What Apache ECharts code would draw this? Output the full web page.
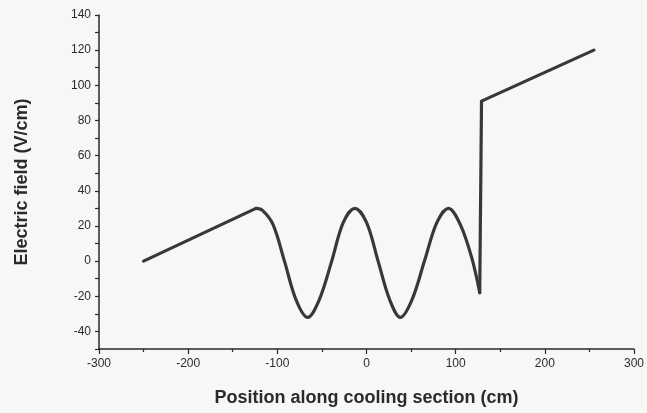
<!DOCTYPE html>
<html>
<head>
<meta charset="utf-8">
<script src="https://cdn.jsdelivr.net/npm/echarts@6/dist/echarts.min.js"></script>
<style>
  html, body { margin: 0; padding: 0; background: #f7f7f5; }
  #main { width: 647px; height: 413px; }
</style>
</head>
<body>
<div id="main"></div>
<script>
// position along cooling section (cm) and field (V/cm)
// linear ramp up to the first crest
var rampX = [-250, -124];
var rampY = [0, 30];
// oscillating part
var waveX = [-124, -117, -105, -92, -79, -66, -53, -39, -26, -13, 0, 13, 26, 38, 51, 65, 79, 92, 105, 118, 127];
var waveY = [30, 29, 21, 0, -22, -32, -22, 0, 22, 30, 22, 0, -22, -32, -22, 0, 22, 30, 21, 2, -18];
// jump and final ramp
var jumpX = [127, 129, 255];
var jumpY = [-18, 91, 120];

var xTicks = [-300, -200, -100, 0, 100, 200, 300];

function pairs(xs, ys) {
  return xs.map(function (x, i) { return [x, ys[i]]; });
}

var lineStyle = { color: "#383838", width: 3.2, cap: "round", join: "round" };

var chart = echarts.init(document.getElementById("main"));

var option = {
  backgroundColor: "#f7f7f5",
  animation: false,
  grid: { left: 99, right: 10, top: 15, bottom: 64 },
  xAxis: {
    type: "value",
    min: -300,
    max: 300,
    interval: 100,
    name: "Position along cooling section (cm)",
    nameLocation: "middle",
    nameGap: 40,
    nameTextStyle: { fontFamily: "Liberation Sans", fontSize: 18, fontWeight: "bold", color: "#2a2a2a" },
    axisLine: { onZero: false, lineStyle: { color: "#2a2a2a", width: 1.5 } },
    axisTick: { length: 5, lineStyle: { color: "#2a2a2a", width: 1.2 } },
    minorTick: { show: true, splitNumber: 2, length: 3, lineStyle: { color: "#2a2a2a", width: 1.2 } },
    splitLine: { show: false },
    axisLabel: {
      fontFamily: "Liberation Sans",
      fontSize: 12,
      color: "#2a2a2a",
      margin: 9,
      formatter: function (v) { return xTicks.indexOf(v) >= 0 ? String(v) : ""; }
    }
  },
  yAxis: {
    type: "value",
    min: -50,
    max: 140,
    interval: 10,
    name: "Electric field (V/cm)",
    nameLocation: "middle",
    nameGap: 68,
    nameTextStyle: { fontFamily: "Liberation Sans", fontSize: 18, fontWeight: "bold", color: "#2a2a2a" },
    axisLine: { show: true, onZero: false, lineStyle: { color: "#2a2a2a", width: 1.5 } },
    axisTick: { show: true, length: 4, lineStyle: { color: "#2a2a2a", width: 1.2 } },
    splitLine: { show: false },
    axisLabel: {
      fontFamily: "Liberation Sans",
      fontSize: 12,
      color: "#2a2a2a",
      margin: 8,
      formatter: function (v) { return v % 20 === 0 ? String(v) : ""; }
    }
  },
  series: [
    { type: "line", data: pairs(rampX, rampY), showSymbol: false, lineStyle: lineStyle },
    { type: "line", data: pairs(waveX, waveY), showSymbol: false, smooth: 0.35, lineStyle: lineStyle },
    { type: "line", data: pairs(jumpX, jumpY), showSymbol: false, lineStyle: lineStyle }
  ]
};

chart.setOption(option);
</script>
</body>
</html>
